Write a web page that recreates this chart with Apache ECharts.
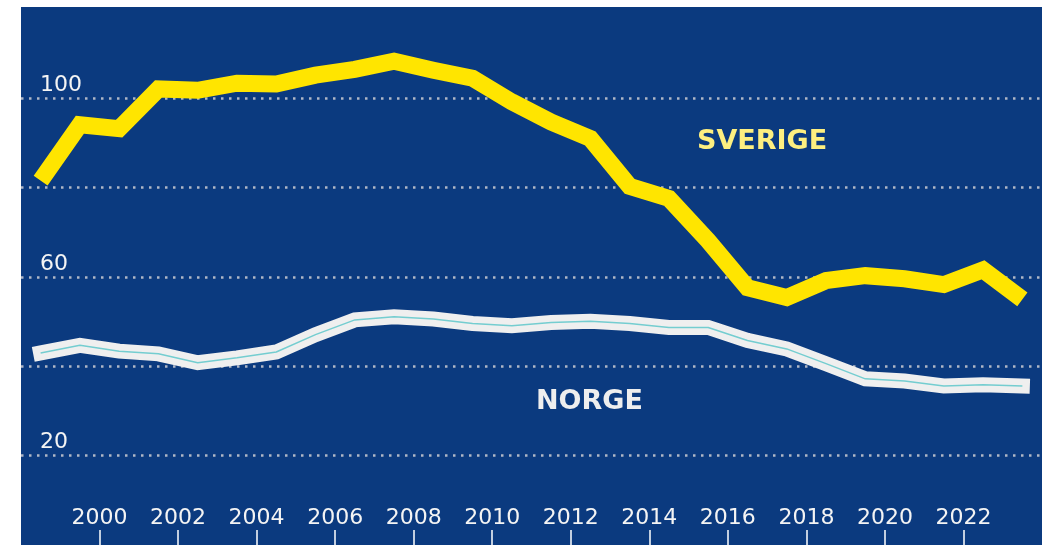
<!DOCTYPE html>
<html>
<head>
<meta charset="utf-8">
<title>Sverige / Norge</title>
<script src="https://cdn.jsdelivr.net/npm/echarts@6/dist/echarts.min.js"></script>
<style>
  html, body { margin: 0; padding: 0; background: #ffffff; }
  #wrap { position: relative; width: 1050px; height: 545px; overflow: hidden; }
  #bg { position: absolute; left: 21px; top: 7px; width: 1021px; height: 538px; background: #0b3a7f; }
  #chart { position: absolute; left: 0; top: 0; width: 1050px; height: 545px; }
</style>
</head>
<body>
<div id="wrap">
  <div id="bg"></div>
  <div id="chart"></div>
</div>
<script>
// år (varje punkt ligger mitt i sitt år)
const years = ['1998', '1999', '2000', '2001', '2002', '2003', '2004', '2005', '2006', '2007', '2008', '2009', '2010',
  '2011', '2012', '2013', '2014', '2015', '2016', '2017', '2018', '2019', '2020', '2021', '2022', '2023']

const sverige = [81.6, 94.1, 93.2, 102.1, 101.8, 103.4, 103.2, 105.2, 106.5, 108.3, 106.3, 104.5, 99.2,
  94.7, 91.0, 80.3, 77.6, 68.1, 57.6, 55.4, 59.2, 60.3, 59.6, 58.3, 61.6, 55.0]

const norge = [43.0, 44.7, 43.4, 42.8, 40.8, 41.9, 43.2, 47.1, 50.4, 51.1, 50.6, 49.6, 49.1,
  49.8, 50.1, 49.6, 48.7, 48.7, 45.8, 43.9, 40.6, 37.2, 36.7, 35.6, 35.9, 35.6]

// tick labels
const yearTicks = [2000, 2002, 2004, 2006, 2008, 2010, 2012, 2014, 2016, 2018, 2020, 2022]
const yLabels = [20, 60, 100]

const chart = echarts.init(document.getElementById('chart'))

const labelFont = {
  color: '#f4f4f4',
  fontFamily: 'DejaVu Sans',
  fontSize: 22
}

const option = {
  backgroundColor: 'transparent',
  animation: false,
  grid: {
    left: 21,
    right: 8,
    top: 9,
    bottom: -4
  },
  xAxis: [
    {
      // dataaxel, dold
      type: 'category',
      data: years,
      boundaryGap: true,
      position: 'bottom',
      show: false
    },
    {
      // årsaxel med streck
      type: 'value',
      position: 'bottom',
      min: 1998,
      max: 2024,
      interval: 2,
      axisLine: { show: false },
      splitLine: { show: false },
      axisTick: {
        inside: true,
        length: 15,
        customValues: yearTicks,
        lineStyle: { color: '#ffffff', width: 1.5 }
      },
      axisLabel: Object.assign({
        inside: true,
        margin: 16,
        customValues: yearTicks,
        formatter: v => String(v)
      }, labelFont)
    }
  ],
  yAxis: {
    type: 'value',
    min: 0,
    max: 120,
    interval: 20,
    axisLine: { show: false },
    axisTick: { show: false },
    splitLine: {
      show: true,
      showMinLine: false,
      showMaxLine: false,
      lineStyle: { color: '#b0b7c6', width: 2.5, type: [2.5, 5.5] }
    },
    axisLabel: Object.assign({
      inside: true,
      margin: 19,
      verticalAlign: 'bottom',
      padding: [0, 0, 2, 0],
      formatter: v => (yLabels.indexOf(v) >= 0 ? String(v) : '')
    }, labelFont)
  },
  series: [
    {
      name: 'Sverige',
      type: 'line',
      xAxisIndex: 0,
      data: sverige,
      symbol: 'none',
      lineStyle: { color: '#ffe500', width: 17, cap: 'butt', join: 'miter' },
      z: 3
    },
    {
      name: 'Norge',
      type: 'line',
      xAxisIndex: 0,
      data: norge,
      symbol: 'none',
      lineStyle: { color: '#efefef', width: 15, cap: 'square', join: 'miter' },
      z: 3
    },
    {
      name: 'Norge linje',
      type: 'line',
      xAxisIndex: 0,
      data: norge,
      symbol: 'none',
      lineStyle: { color: '#74cdd0', width: 1.5 },
      z: 4
    }
  ],
  graphic: [
    {
      type: 'text',
      left: 697,
      top: 128,
      style: {
        text: 'SVERIGE',
        fill: '#fdef80',
        font: 'bold 27px "DejaVu Sans"'
      }
    },
    {
      type: 'text',
      left: 536,
      top: 388,
      style: {
        text: 'NORGE',
        fill: '#eeeeee',
        font: 'bold 27px "DejaVu Sans"'
      }
    }
  ]
}

chart.setOption(option)
</script>
</body>
</html>
